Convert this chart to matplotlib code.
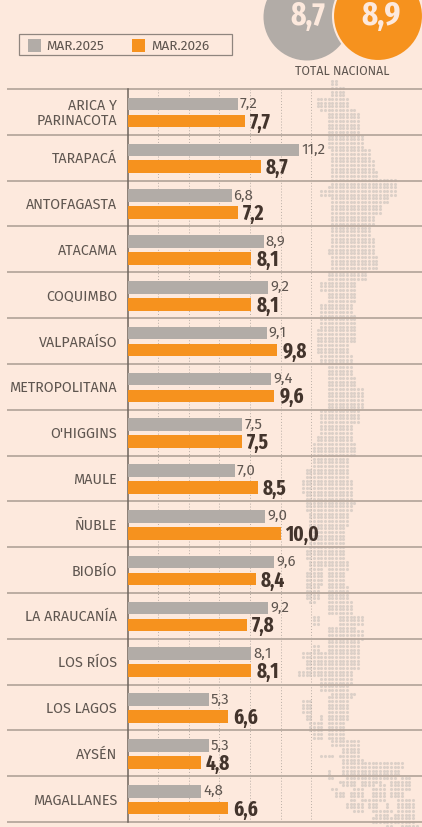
#!/usr/bin/env python3
import matplotlib
matplotlib.use("Agg")
import matplotlib.pyplot as plt
from matplotlib.patches import Circle, Rectangle

W, H = 422, 827
BG = "#fde9dd"
GRAY = "#b2aca7"
ORANGE = "#f6921e"
TEXT = "#5f5650"
DARK = "#43342c"
RULE = "#b7a89d"
DOT = "#dcd0c8"

regions = ["ARICA Y\nPARINACOTA", "TARAPACÁ", "ANTOFAGASTA", "ATACAMA", "COQUIMBO",
           "VALPARAÍSO", "METROPOLITANA", "O'HIGGINS", "MAULE", "ÑUBLE", "BIOBÍO",
           "LA ARAUCANÍA", "LOS RÍOS", "LOS LAGOS", "AYSÉN", "MAGALLANES"]
mar_2025 = [7.2, 11.2, 6.8, 8.9, 9.2, 9.1, 9.4, 7.5, 7.0, 9.0, 9.6, 9.2, 8.1, 5.3, 5.3, 4.8]
mar_2026 = [7.7, 8.7, 7.2, 8.1, 8.1, 9.8, 9.6, 7.5, 8.5, 10.0, 8.4, 7.8, 8.1, 6.6, 4.8, 6.6]
total_labels = ["8,7", "8,9"]
legend_labels = ["MAR.2025", "MAR.2026"]

# silueta del mapa: (y arriba, tramos en x), en pixeles de la imagen; cada banda llega hasta la siguiente
map_bands = [
    (81, [(333, 338)]), (85, [(331, 345)]), (98, [(319, 348)]),
    (110, [(323, 355)]), (114, [(327, 359)]), (135, [(327, 363)]),
    (148, [(331, 370)]), (160, [(331, 374)]), (172, [(331, 378)]),
    (179, [(331, 395)]), (185, [(327, 397)]), (191, [(323, 397)]),
    (197, [(327, 397)]), (198, [(331, 390)]), (206, [(331, 382)]),
    (215, [(333, 374)]), (225, [(331, 370)]), (238, [(331, 374)]),
    (250, [(327, 374)]), (256, [(331, 377)]), (270, [(327, 367)]),
    (281, [(323, 358)]), (292, [(327, 355)]), (302, [(323, 352)]),
    (313, [(320, 352)]), (316, [(323, 355)]), (330, [(319, 355)]),
    (342, [(319, 348)]), (353, [(323, 352)]), (366, [(327, 352)]),
    (376, [(330, 355)]), (389, [(327, 363)]), (401, [(330, 363)]),
    (411, [(323, 359)]), (425, [(323, 352)]), (434, [(319, 352)]),
    (442, [(315, 358)]), (456, [(315, 348)]), (468, [(308, 348)]),
    (478, [(304, 352)]), (495, [(308, 352)]), (500, [(308, 358)]),
    (504, [(308, 352)]), (513, [(312, 348)]), (528, [(312, 345)]),
    (549, [(308, 345)]), (562, [(312, 348)]), (569, [(312, 322), (330, 348)]),
    (572, [(308, 322), (330, 345)]), (585, [(308, 318), (330, 348)]),
    (600, [(310, 316), (327, 352)]), (604, [(327, 352)]),
    (615, [(315, 318), (338, 363)]), (625, [(327, 333), (335, 355)]),
    (631, [(330, 363)]), (640, [(327, 359)]), (646, [(315, 318), (330, 359)]),
    (653, [(304, 311), (315, 327), (330, 359)]), (661, [(308, 359)]),
    (671, [(300, 307), (312, 352)]), (677, [(320, 352)]),
    (685, [(320, 330), (333, 348)]), (692, [(333, 355)]),
    (697, [(327, 352)]), (700, [(304, 311), (327, 348)]),
    (715, [(308, 313), (320, 323), (327, 348)]),
    (720, [(312, 325), (330, 345)]), (733, [(315, 322), (327, 344)]),
    (740, [(333, 359)]), (747, [(342, 359)]), (753, [(323, 333), (338, 359)]),
    (758, [(342, 363)]), (763, [(342, 403)]),
    (770, [(327, 330), (345, 400)]),
    (775, [(327, 333), (348, 397), (402, 410)]),
    (780, [(338, 355), (360, 383), (390, 410)]),
    (783, [(345, 355), (363, 373), (380, 385), (390, 410)]),
    (788, [(332, 337), (355, 365), (373, 385), (390, 410)]),
    (793, [(335, 347), (350, 365), (372, 385), (390, 405)]),
    (797, [(350, 357), (363, 385), (397, 415)]),
    (802, [(347, 363), (368, 380), (387, 390), (397, 415)]),
    (808, [(353, 363), (372, 392), (397, 415)]),
    (812, [(377, 390), (393, 415)]), (818, [(372, 415)]),
    (823, [(387, 392), (402, 418)]),
]

plt.rcParams["font.family"] = ["Fira Sans", "Open Sans", "DejaVu Sans"]
NARROW = ["Fira Sans Extra Condensed", "Fira Sans Condensed", "DejaVu Sans"]

fig = plt.figure(figsize=(W / 100, H / 100), dpi=100, facecolor=BG)

# capa de fondo en pixeles: mapa, reglas, leyenda y circulos
bg = fig.add_axes([0, 0, 1, 1])
bg.set_xlim(0, W)
bg.set_ylim(H, 0)
bg.axis("off")

PITCH = 3.67
xs, ys = [], []
for k in range(22, int(H / PITCH) + 1):
    y = k * PITCH
    spans = [b[1] for b in map_bands if b[0] <= y + 0.5][-1]
    for left, right in spans:
        col = round((left - 270) / PITCH)
        while 270 + col * PITCH <= right:
            xs.append(270 + col * PITCH)
            ys.append(y)
            col += 1
bg.scatter(xs, ys, s=5.0, color=DOT, linewidths=0, zorder=1)

ROW_H = (822 - 89) / len(regions)
for i in range(len(regions) + 1):
    bg.plot([7, W], [89 + i * ROW_H] * 2, color=RULE, lw=1.3, zorder=2, solid_capstyle="butt")

bg.add_patch(Rectangle((18.5, 33.5), 213.5, 21, fc="none", ec="#8f857e", lw=0.9))
bg.add_patch(Rectangle((28, 38.5), 13, 13, fc=GRAY, ec="none"))
bg.add_patch(Rectangle((132, 38.5), 13, 13, fc=ORANGE, ec="none"))
bg.text(46, 46, legend_labels[0], fontsize=9.8, color=TEXT, va="center")
bg.text(151, 46, legend_labels[1], fontsize=9.8, color=TEXT, va="center")

bg.add_patch(Circle((307, 17), 43.5, fc=GRAY, ec="none", zorder=3))
bg.add_patch(Circle((378, 16), 45, fc=ORANGE, ec=BG, lw=1.5, zorder=4))
# las cifras salen cortadas arriba en la original, se bajan un poco para que entren
bg.text(307.5, 16, total_labels[0], family=NARROW, fontweight="bold", fontsize=23,
        color=BG, ha="center", va="center", zorder=5)
bg.text(381, 16, total_labels[1], family=NARROW, fontweight="bold", fontsize=24,
        color=BG, ha="center", va="center", zorder=5)
bg.text(342.5, 71, "TOTAL NACIONAL", fontsize=8.9, color=TEXT, ha="center", va="center")

# barras con su propia escala: 2 unidades son 30.6 px
ax = fig.add_axes([127.5 / W, 1 - 822 / H, (W - 127.5) / W, (822 - 89) / H])
ax.patch.set_alpha(0)
ax.set_xlim(0, (W - 127.5) / 15.3)
ax.set_ylim(len(regions), 0)
for side in ["top", "right", "bottom"]:
    ax.spines[side].set_visible(False)
ax.spines["left"].set_color("#6e645d")
ax.spines["left"].set_linewidth(1.1)

ax.set_xticks([2, 4, 6, 8, 10, 12])
ax.tick_params(axis="x", length=0, labelbottom=False)
ax.grid(axis="x", color="#b9aea6", lw=0.7, ls=(0, (1, 2)))
ax.set_axisbelow(True)

pos = [i + 0.5 for i in range(len(regions))]
ax.set_yticks(pos)
ax.set_yticklabels(regions, fontsize=10.3, color=TEXT, linespacing=1.0)
ax.tick_params(axis="y", length=0, pad=7.5)

ax.barh([p - 0.172 for p in pos], mar_2025, height=0.275, color=GRAY, zorder=3)
ax.barh([p + 0.198 for p in pos], mar_2026, height=0.275, color=ORANGE, zorder=3)

for p, a, b in zip(pos, mar_2025, mar_2026):
    ax.annotate(f"{a:.1f}".replace(".", ","), (a, p - 0.172), xytext=(1.5, 0),
                textcoords="offset points", fontsize=10.8, color=TEXT, va="center", zorder=4)
    ax.annotate(f"{b:.1f}".replace(".", ","), (b, p + 0.198), xytext=(3.5, -1),
                textcoords="offset points", family=NARROW, fontweight="bold", fontsize=15,
                color=DARK, va="center", zorder=4)

fig.savefig("out.png", dpi=100, facecolor=BG)
